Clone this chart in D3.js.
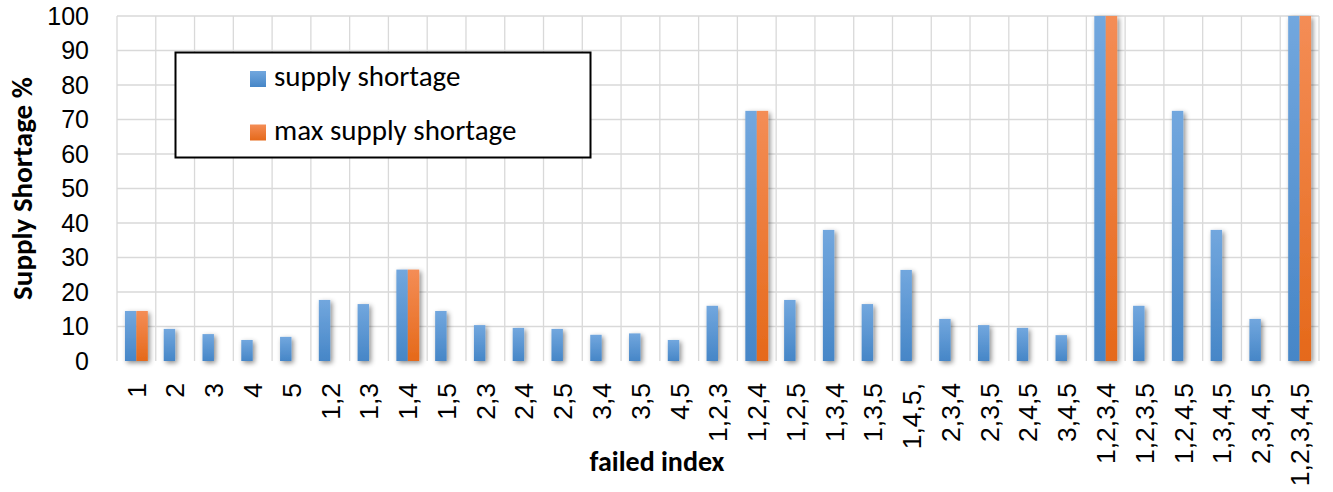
<!DOCTYPE html>
<html>
<head>
<meta charset="utf-8">
<script src="https://cdn.jsdelivr.net/npm/d3@7/dist/d3.min.js"></script>
<style>
    body { margin: 0; background: #fff; }
    svg { display: block; font-family: Carlito, Lato, "Open Sans", sans-serif; }
</style>
</head>
<body>
<svg id="chart" width="1333" height="492"></svg>
<script>
/*global d3*/
// failed component sets on the x axis
var categories = ["1", "2", "3", "4", "5", "1,2", "1,3", "1,4", "1,5", "2,3", "2,4", "2,5", "3,4", "3,5", "4,5",
        "1,2,3", "1,2,4", "1,2,5", "1,3,4", "1,3,5", "1,4,5,", "2,3,4", "2,3,5", "2,4,5", "3,4,5",
        "1,2,3,4", "1,2,3,5", "1,2,4,5", "1,3,4,5", "2,3,4,5", "1,2,3,4,5"],
    supplyShortage = [14.5, 9.3, 7.8, 6.1, 7.0, 17.7, 16.5, 26.5, 14.5, 10.4, 9.6, 9.3, 7.6, 8.0, 6.1,
        16.0, 72.5, 17.7, 38.0, 16.5, 26.4, 12.2, 10.4, 9.6, 7.5,
        100, 16.0, 72.5, 38.0, 12.2, 100],
    maxSupplyShortage = [14.5, 0, 0, 0, 0, 0, 0, 26.5, 0, 0, 0, 0, 0, 0, 0,
        0, 72.5, 0, 0, 0, 0, 0, 0, 0, 0,
        100, 0, 0, 0, 0, 100],
    seriesNames = ["supply shortage", "max supply shortage"],
    yTicks = [0, 10, 20, 30, 40, 50, 60, 70, 80, 90, 100];

var svg = d3.select("#chart"),
    plotLeft = 117,
    plotRight = 1319,
    plotTop = 16,
    plotBottom = 361,
    i;

var x = d3.scaleBand().domain(categories).range([plotLeft, plotRight]),
    xs = d3.scaleBand().domain(seriesNames).range([0, x.bandwidth() * 0.59]),
    y = d3.scaleLinear().domain([0, 100]).range([plotBottom, plotTop]);

var defs = svg.append("defs");
function gradient(id, c1, c2) {
    "use strict";
    var g = defs.append("linearGradient").attr("id", id)
        .attr("x1", 0).attr("y1", 0).attr("x2", 0).attr("y2", 1);
    g.append("stop").attr("offset", "0%").attr("stop-color", c1);
    g.append("stop").attr("offset", "100%").attr("stop-color", c2);
}
gradient("gBlue", "#72a7de", "#4686c7");
gradient("gOrange", "#f48d56", "#e5691a");
// soft excel-like shadow
var f = defs.append("filter").attr("id", "shadow")
    .attr("x", "-50%").attr("y", "-10%").attr("width", "200%").attr("height", "130%");
f.append("feDropShadow").attr("dx", 2).attr("dy", 2).attr("stdDeviation", 2.5)
    .attr("flood-color", "#000").attr("flood-opacity", 0.45);

// gridlines
svg.append("g").selectAll("line").data(yTicks.slice(1))
    .enter().append("line")
    .attr("x1", plotLeft).attr("x2", plotRight)
    .attr("y1", function (d) { return y(d); }).attr("y2", function (d) { return y(d); })
    .attr("stroke", "#d9d9d9").attr("stroke-width", 1.3);
var bounds = categories.map(function (c) { return x(c); }).concat([plotRight]);
svg.append("g").selectAll("line").data(bounds)
    .enter().append("line")
    .attr("x1", function (d) { return d; }).attr("x2", function (d) { return d; })
    .attr("y1", plotTop).attr("y2", plotBottom)
    .attr("stroke", "#d9d9d9").attr("stroke-width", 1.3);

// bottom axis line
svg.append("line")
    .attr("x1", plotLeft).attr("x2", plotRight).attr("y1", plotBottom + 1).attr("y2", plotBottom + 1)
    .attr("stroke", "#d4d4d4").attr("stroke-width", 2.5)
    .attr("filter", "url(#shadow)");

// bars
var seriesValues = [supplyShortage, maxSupplyShortage],
    fills = ["url(#gBlue)", "url(#gOrange)"],
    groupOffset = (x.bandwidth() - xs.range()[1]) / 2;
var bars = svg.append("g").attr("filter", "url(#shadow)");
for (i = 0; i < seriesValues.length; i++) {
    (function (s) {
        bars.append("g").selectAll("rect")
            .data(categories.filter(function (c, k) { return seriesValues[s][k] > 0; }))
            .enter().append("rect")
            .attr("x", function (c) { return x(c) + groupOffset + xs(seriesNames[s]); })
            .attr("width", xs.bandwidth())
            .attr("y", function (c) { return y(seriesValues[s][categories.indexOf(c)]); })
            .attr("height", function (c) { return plotBottom - y(seriesValues[s][categories.indexOf(c)]); })
            .attr("fill", fills[s]);
    }(i));
}

// y axis labels
var yAxis = d3.axisLeft(y).tickValues(yTicks).tickSize(0).tickPadding(0);
var yg = svg.append("g").attr("transform", "translate(89,0)").call(yAxis);
yg.select(".domain").remove();
yg.selectAll("text").attr("font-size", 25).attr("fill", "#000").attr("font-family", null);

// x axis labels, rotated
var xAxis = d3.axisBottom(x).tickSize(0).tickPadding(0);
var xg = svg.append("g").attr("transform", "translate(0,383)").call(xAxis);
xg.select(".domain").remove();
xg.selectAll("text")
    .attr("font-size", 26.5).attr("fill", "#000").attr("font-family", null)
    .attr("transform", "rotate(-90)")
    .attr("text-anchor", "end")
    .attr("x", 0).attr("y", 0).attr("dy", "0.35em");

// axis titles
svg.append("text")
    .attr("transform", "translate(32," + ((plotTop + plotBottom) / 2) + ") rotate(-90)")
    .attr("text-anchor", "middle")
    .attr("font-size", 29).attr("font-weight", 900)
    .text("Supply Shortage %");
svg.append("text")
    .attr("x", 657).attr("y", 471)
    .attr("text-anchor", "middle")
    .attr("font-size", 28).attr("font-weight", "bold")
    .text("failed index");

// legend
var legend = svg.append("g");
legend.append("rect")
    .attr("x", 175.5).attr("y", 52.5).attr("width", 415).attr("height", 105)
    .attr("fill", "#fff").attr("stroke", "#000").attr("stroke-width", 2);
var legendRows = legend.selectAll("g.row").data(seriesNames)
    .enter().append("g").attr("class", "row")
    .attr("transform", function (d, k) { return "translate(250," + (71 + k * 53.5) + ")"; });
legendRows.append("rect")
    .attr("width", 16).attr("height", 16)
    .attr("fill", function (d, k) { return fills[k]; });
legendRows.append("text")
    .attr("x", 24).attr("y", 15)
    .attr("font-size", 29)
    .text(function (d) { return d; });
</script>
</body>
</html>
